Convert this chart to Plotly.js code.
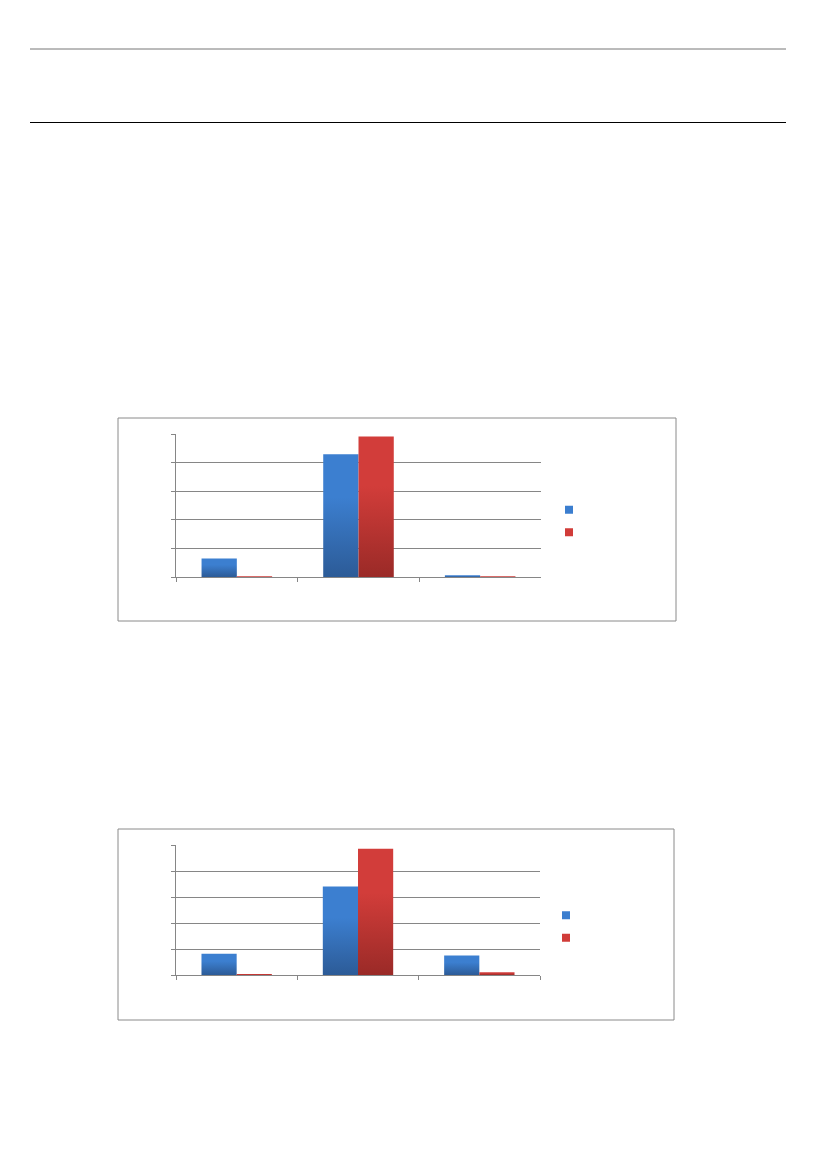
<!DOCTYPE html>
<html>
<head>
<meta charset="utf-8">
<script src="https://cdn.plot.ly/plotly-3.0.1.min.js"></script>
<style>
  html, body { margin: 0; padding: 0; background: #fff; }
  #page { width: 826px; height: 1169px; }
</style>
</head>
<body>
<div id="page"></div>
<script>
// data (no text survives in the reference)
var categories = ['1', '2', '3'];
var seriesNames = ['', ''];
var chart1Blue = [6.5, 42.9, 0.6];
var chart1Red  = [0.3, 49.1, 0.3];
var chart2Blue = [8.2, 34.0, 7.5];
var chart2Red  = [0.4, 48.6, 1.1];

var W = 826, H = 1169;
function px(x) { return x / W; }        // pixel -> paper x
function py(y) { return 1 - y / H; }    // pixel -> paper y

var blue = '#3b7ecf', red = '#d13c39';
var gridGrey = '#868686';

function bar(x, y, name, color, xa, ya, leg) {
  return {
    type: 'bar', x: x, y: y, name: name,
    xaxis: xa, yaxis: ya, legend: leg,
    marker: { color: color, line: { width: 0 } },
    hoverinfo: 'skip'
  };
}

var data = [
  bar(categories, chart1Blue, seriesNames[0], blue, 'x', 'y', 'legend'),
  bar(categories, chart1Red,  seriesNames[1], red,  'x', 'y', 'legend'),
  bar(categories, chart2Blue, seriesNames[0], blue, 'x2', 'y2', 'legend2'),
  bar(categories, chart2Red,  seriesNames[1], red,  'x2', 'y2', 'legend2')
];

function xax(domain, anchor) {
  return {
    domain: domain, anchor: anchor, type: 'category', range: [-0.5, 2.5],
    showticklabels: false, showgrid: false, zeroline: false,
    showline: true, linecolor: gridGrey, linewidth: 1,
    ticks: 'outside', tickson: 'boundaries', ticklen: 4, tickcolor: gridGrey
  };
}
function yax(domain, anchor) {
  return {
    domain: domain, anchor: anchor, range: [0, 50], dtick: 10,
    showticklabels: false, showgrid: true, gridcolor: gridGrey, gridwidth: 1,
    zeroline: false, showline: true, linecolor: gridGrey, linewidth: 1,
    ticks: 'outside', ticklen: 4, tickcolor: gridGrey
  };
}

function line(x0, y0, x1, y1, color, w) {
  return { type: 'line', xref: 'paper', yref: 'paper',
    x0: px(x0), y0: py(y0), x1: px(x1), y1: py(y1),
    line: { color: color, width: w } };
}
function box(x0, y0, x1, y1) {
  return { type: 'rect', xref: 'paper', yref: 'paper',
    x0: px(x0), y0: py(y1), x1: px(x1), y1: py(y0),
    line: { color: '#8a8a8a', width: 1 }, fillcolor: 'rgba(0,0,0,0)', layer: 'below' };
}

function leg(x, y) {
  return {
    x: px(x), y: py(y), xanchor: 'left', yanchor: 'middle',
    bgcolor: 'rgba(0,0,0,0)', borderwidth: 0,
    font: { family: 'Liberation Sans', size: 15, color: '#000' },
    traceorder: 'normal', itemwidth: 30
  };
}

var layout = {
  width: W, height: H,
  margin: { l: 0, r: 0, t: 0, b: 0 },
  paper_bgcolor: '#fff', plot_bgcolor: 'rgba(0,0,0,0)',
  showlegend: true,
  barmode: 'group', bargap: 0.42, bargroupgap: 0,
  xaxis:  xax([px(176), px(541)], 'y'),
  yaxis:  yax([py(577), py(434)], 'x'),
  xaxis2: xax([px(176), px(540)], 'y2'),
  yaxis2: yax([py(975), py(845)], 'x2'),
  legend:  leg(549, 521),
  legend2: leg(546, 926.5),
  shapes: [
    line(30, 49, 786, 49, '#777', 1),
    line(30, 122.5, 786, 122.5, '#000', 1),
    box(118, 418, 676, 621),
    box(118, 829, 674, 1020)
  ]
};

var graphDiv = document.getElementById('page');
Plotly.newPlot(graphDiv, data, layout, { displayModeBar: false, staticPlot: true }).then(function () {
  // Excel style vertical shading on the bars
  var svg = graphDiv.querySelector('.main-svg');
  var ns = 'http://www.w3.org/2000/svg';
  var defs = svg.querySelector('defs') || svg.insertBefore(document.createElementNS(ns, 'defs'), svg.firstChild);
  function grad(id, top, bottom) {
    var g = document.createElementNS(ns, 'linearGradient');
    g.setAttribute('id', id);
    g.setAttribute('x1', '0'); g.setAttribute('y1', '0');
    g.setAttribute('x2', '0'); g.setAttribute('y2', '1');
    [[0, top], [0.35, top], [1, bottom]].forEach(function (s) {
      var st = document.createElementNS(ns, 'stop');
      st.setAttribute('offset', s[0]);
      st.setAttribute('stop-color', s[1]);
      g.appendChild(st);
    });
    defs.appendChild(g);
  }
  grad('gBlue', '#3c7fd0', '#2c5b97');
  grad('gRed', '#d23d3a', '#9a2a27');
  graphDiv.querySelectorAll('.barlayer .trace').forEach(function (tr) {
    var t = tr.__data__[0].trace;
    var id = t.marker.color === blue ? 'gBlue' : 'gRed';
    tr.querySelectorAll('.point path').forEach(function (p) {
      p.style.fill = 'url(#' + id + ')';
    });
  });
  // small square legend keys, like the original
  graphDiv.querySelectorAll('.legendpoints path').forEach(function (p) {
    p.setAttribute('d', 'M4,4H-4V-4H4Z');
    p.style.strokeWidth = '0';
  });
});
</script>
</body>
</html>
